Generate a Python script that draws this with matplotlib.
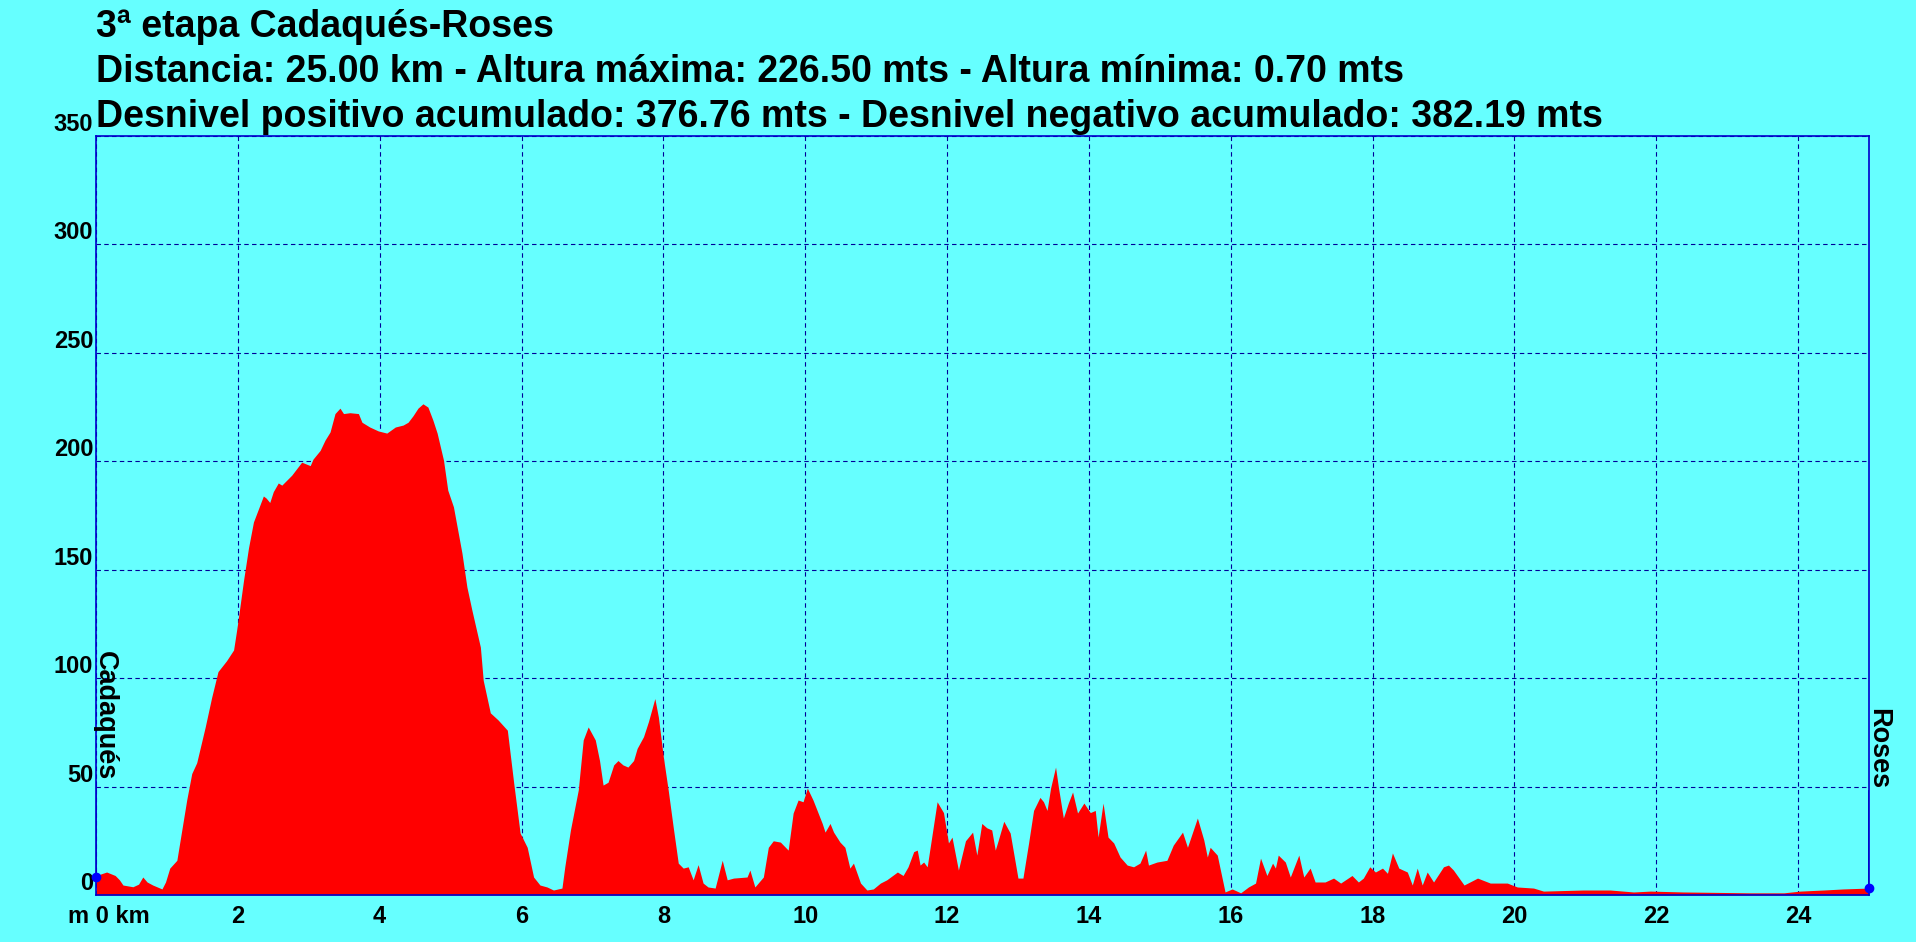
'''
Elevation profile of the 3rd stage Cadaqués-Roses.
Filled red profile on a cyan background, with the start and end marked.
'''

import matplotlib
matplotlib.use('Agg')
import matplotlib.pyplot as plt
import matplotlib.transforms as mtransforms

'''
--------------------------------------------------------------------------------
Data read off the profile
--------------------------------------------------------------------------------
'''

title_lines = ['3ª etapa Cadaqués-Roses',
               'Distancia: 25.00 km - Altura máxima: 226.50 mts - Altura mínima: 0.70 mts',
               'Desnivel positivo acumulado: 376.76 mts - Desnivel negativo acumulado: 382.19 mts']

start_name = 'Cadaqués'
end_name = 'Roses'

# distance (km) and altitude (m)
distance = [0.00, 0.05, 0.15, 0.27, 0.33, 0.38, 0.52, 0.60, 0.66, 0.72, 0.80, 0.93,
            0.98, 1.04, 1.14, 1.21, 1.28, 1.35, 1.42, 1.54, 1.63, 1.72, 1.84, 1.94,
            1.99, 2.08, 2.15, 2.22, 2.29, 2.36, 2.40, 2.45, 2.50, 2.57, 2.62, 2.76,
            2.90, 3.02, 3.06, 3.16, 3.23, 3.30, 3.37, 3.44, 3.49, 3.58, 3.70, 3.75,
            3.86, 3.98, 4.10, 4.22, 4.33, 4.40, 4.47, 4.54, 4.61, 4.68, 4.75, 4.81,
            4.90, 4.96, 5.04, 5.16, 5.23, 5.30, 5.42, 5.46, 5.56, 5.67, 5.80, 5.89,
            5.98, 6.08, 6.17, 6.26, 6.36, 6.45, 6.57, 6.61, 6.69, 6.80, 6.87, 6.94,
            7.04, 7.10, 7.15, 7.22, 7.30, 7.36, 7.43, 7.50, 7.58, 7.63, 7.72, 7.79,
            7.88, 7.93, 8.00, 8.07, 8.14, 8.21, 8.28, 8.35, 8.42, 8.49, 8.56, 8.63,
            8.73, 8.83, 8.90, 8.99, 9.18, 9.22, 9.29, 9.41, 9.48, 9.55, 9.65, 9.76,
            9.83, 9.90, 9.97, 10.03, 10.11, 10.24, 10.28, 10.35, 10.40, 10.49, 10.56, 10.63,
            10.68, 10.78, 10.87, 10.96, 11.06, 11.15, 11.30, 11.38, 11.45, 11.53, 11.58, 11.62,
            11.67, 11.72, 11.86, 11.95, 12.02, 12.07, 12.16, 12.26, 12.36, 12.42, 12.49, 12.56,
            12.63, 12.68, 12.72, 12.80, 12.89, 13.00, 13.07, 13.15, 13.22, 13.31, 13.36, 13.41,
            13.46, 13.53, 13.57, 13.64, 13.71, 13.77, 13.84, 13.93, 14.02, 14.09, 14.13, 14.20,
            14.27, 14.35, 14.44, 14.54, 14.63, 14.72, 14.80, 14.84, 14.96, 15.10, 15.19, 15.32,
            15.39, 15.53, 15.62, 15.67, 15.71, 15.81, 15.92, 16.02, 16.14, 16.25, 16.35, 16.42,
            16.51, 16.59, 16.63, 16.67, 16.77, 16.84, 16.96, 17.03, 17.12, 17.19, 17.33, 17.45,
            17.55, 17.71, 17.80, 17.87, 17.96, 18.04, 18.14, 18.21, 18.28, 18.37, 18.49, 18.56,
            18.63, 18.70, 18.77, 18.86, 19.00, 19.07, 19.14, 19.29, 19.48, 19.66, 19.90, 20.04,
            20.27, 20.41, 20.97, 21.35, 21.68, 21.92, 22.38, 22.86, 23.33, 23.80, 24.03, 24.36,
            24.64, 25.00]

altitude = [8.3, 9.5, 10.6, 9.0, 7.0, 4.6, 3.8, 5.0, 8.3, 6.0, 4.6, 2.8,
            6.0, 12.4, 16.0, 30.0, 44.0, 56.0, 61.0, 77.5, 91.0, 103.0, 108.0, 113.0,
            123.6, 145.0, 160.0, 172.0, 178.0, 184.0, 183.0, 181.0, 186.0, 190.0, 189.0, 193.6,
            199.6, 198.0, 201.0, 205.0, 209.8, 213.5, 222.0, 224.5, 222.0, 222.4, 222.0, 218.0,
            215.8, 214.0, 213.0, 215.8, 216.7, 218.0, 221.0, 224.5, 226.5, 225.0, 219.0, 213.0,
            200.5, 186.7, 179.0, 157.7, 142.0, 131.4, 114.3, 99.0, 84.0, 80.7, 76.0, 51.6,
            28.6, 22.0, 8.3, 4.6, 3.7, 2.3, 3.2, 13.0, 30.0, 48.4, 71.5, 77.5,
            71.5, 62.0, 50.7, 52.0, 60.0, 62.0, 60.0, 59.0, 62.0, 67.6, 73.0, 80.0,
            90.6, 82.0, 63.6, 48.0, 31.0, 14.7, 12.4, 13.0, 7.0, 14.0, 5.5, 3.7,
            3.2, 16.0, 7.0, 7.8, 8.3, 11.5, 3.7, 8.3, 22.0, 25.0, 24.4, 20.7,
            37.8, 43.8, 43.0, 49.3, 43.8, 33.0, 29.0, 33.0, 29.0, 24.4, 22.0, 12.4,
            14.7, 5.5, 2.3, 2.8, 5.5, 7.0, 10.6, 9.0, 13.0, 20.0, 20.7, 13.8,
            15.2, 13.0, 43.0, 38.0, 24.0, 26.7, 11.5, 25.0, 29.0, 18.4, 33.0, 31.0,
            30.0, 20.7, 25.0, 34.0, 28.6, 7.8, 7.8, 24.0, 39.0, 45.0, 43.0, 39.0,
            49.3, 59.0, 49.8, 35.5, 42.4, 47.5, 37.8, 42.4, 38.0, 39.0, 26.7, 42.4,
            26.7, 24.0, 17.5, 13.8, 13.0, 14.7, 20.7, 13.8, 15.2, 16.0, 23.0, 29.0,
            22.0, 35.5, 25.4, 17.5, 22.0, 18.4, 1.4, 2.8, 1.0, 3.7, 5.5, 17.0,
            9.0, 14.7, 12.4, 18.4, 15.2, 8.3, 18.4, 8.3, 12.4, 6.0, 6.0, 7.8,
            5.5, 9.0, 6.0, 7.8, 13.0, 10.6, 12.4, 10.0, 19.4, 12.4, 10.6, 4.6,
            12.4, 4.6, 10.6, 6.0, 13.0, 13.8, 11.5, 4.6, 7.8, 5.5, 5.5, 3.7,
            3.2, 1.8, 2.3, 2.3, 1.4, 1.8, 1.4, 1.2, 1.0, 1.0, 1.8, 2.3,
            2.8, 3.2]

# height reached by the marker lines at start and end
start_marker_top = 52
end_marker_top = 48

x_ticks = list(range(0, 25, 2))
x_tick_labels = ['m 0 km'] + [str(t) for t in x_ticks[1:]]
y_ticks = list(range(0, 351, 50))
y_tick_labels = [str(t) for t in y_ticks]

'''
--------------------------------------------------------------------------------
Plot
--------------------------------------------------------------------------------
'''

plt.rcParams['font.family'] = ['Liberation Sans', 'DejaVu Sans']
plt.rcParams['font.weight'] = 'bold'

sky = '#66FFFF'
blue = '#0000CC'

fig = plt.figure(figsize=(19.16, 9.42), dpi=100, facecolor=sky)
ax = fig.add_axes([96/1916, 47/942, (1869-96)/1916, (895-136)/942])
ax.set_facecolor(sky)

ax.fill_between(distance, 0, altitude, color='#FF0000', lw=0, zorder=2)

# start and end markers
ax.plot([distance[0], distance[0]], [altitude[0], start_marker_top], color=blue, lw=1.2, zorder=3)
ax.plot([distance[-1], distance[-1]], [altitude[-1], end_marker_top], color=blue, lw=1.2, zorder=3)
ax.plot([distance[0], distance[-1]], [altitude[0], altitude[-1]], 'o', color='#0000FF',
        ms=6, zorder=4, clip_on=False)
ax.annotate(start_name, (distance[0], start_marker_top + 1), xytext=(-3, 0),
            textcoords='offset points', rotation=270, ha='left', va='bottom',
            fontsize=19.5, fontweight='bold', color='black')
ax.annotate(end_name, (distance[-1], end_marker_top + 1), xytext=(-3, 0),
            textcoords='offset points', rotation=270, ha='left', va='bottom',
            fontsize=19.5, fontweight='bold', color='black', annotation_clip=False)

ax.set_xlim(0, 25)
ax.set_ylim(0, 350)
ax.set_xticks(x_ticks, x_tick_labels, fontsize=17, fontweight='bold')
ax.set_yticks(y_ticks, y_tick_labels, fontsize=17, fontweight='bold', va='bottom')
ax.tick_params(axis='x', length=0, pad=7)
ax.tick_params(axis='y', length=0, pad=2)

# the first x label carries the units and sits a little to the right
shift = mtransforms.ScaledTranslation(13/100, 0, fig.dpi_scale_trans)
first = ax.get_xticklabels()[0]
first.set_transform(first.get_transform() + shift)

ax.grid(True, color='#000099', linestyle=(0, (4, 3)), lw=0.8, zorder=1)
ax.set_axisbelow(True)
for side in ax.spines.values():
    side.set_color(blue)
    side.set_linewidth(1.2)

# three title lines, left aligned with the plot
for i, line in enumerate(title_lines):
    fig.text(96/1916, 1 - (37 + 45*i)/942, line, fontsize=27, fontweight='bold',
             ha='left', va='baseline', color='black')

fig.savefig('out.png', dpi=100, facecolor=sky)
